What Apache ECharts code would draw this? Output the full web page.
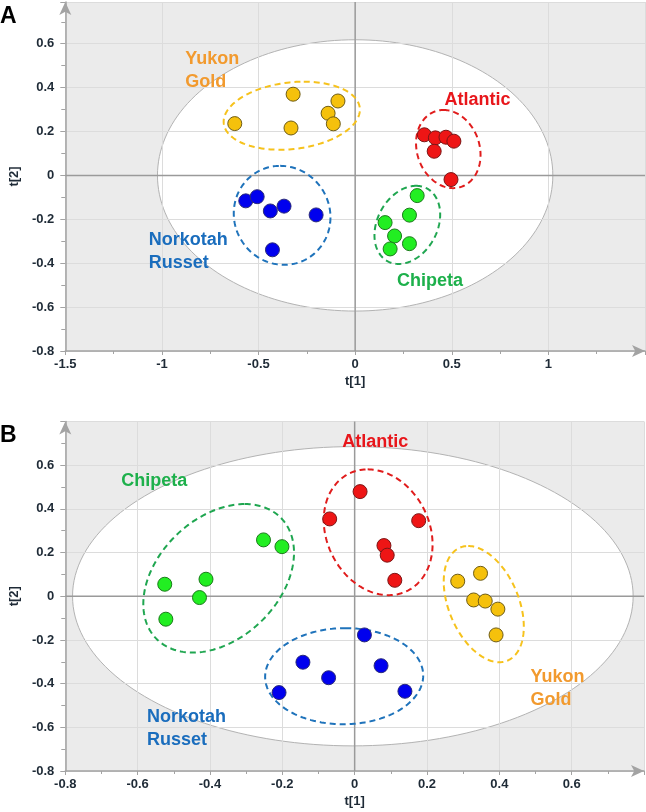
<!DOCTYPE html>
<html>
<head>
<meta charset="utf-8">
<script src="https://cdn.jsdelivr.net/npm/echarts@6/dist/echarts.min.js"></script>
<style>html,body{margin:0;padding:0;background:#fff}#c{width:646px;height:812px}</style>
</head>
<body>
<div id="c"></div>
<script>
// ---------- DATA ----------
const cultivars = ['Yukon Gold', 'Atlantic', 'Norkotah Russet', 'Chipeta'];

// Panel A scores [t1, t2]
const aYukonGold = [[-0.623,0.236],[-0.321,0.370],[-0.332,0.216],[-0.089,0.339],[-0.140,0.283],[-0.113,0.235]];
const aAtlantic  = [[0.358,0.185],[0.415,0.171],[0.470,0.174],[0.511,0.156],[0.409,0.110],[0.496,-0.019]];
const aNorkotah  = [[-0.566,-0.116],[-0.507,-0.097],[-0.439,-0.162],[-0.368,-0.140],[-0.202,-0.180],[-0.428,-0.339]];
const aChipeta   = [[0.321,-0.092],[0.281,-0.181],[0.155,-0.215],[0.204,-0.276],[0.281,-0.311],[0.181,-0.335]];

// Panel B scores [t1, t2]
const bYukonGold = [[0.285,0.069],[0.348,0.105],[0.329,-0.017],[0.361,-0.022],[0.396,-0.059],[0.391,-0.177]];
const bAtlantic  = [[0.015,0.479],[-0.069,0.354],[0.177,0.346],[0.081,0.232],[0.090,0.188],[0.111,0.073]];
const bNorkotah  = [[0.027,-0.177],[-0.143,-0.302],[0.073,-0.318],[-0.072,-0.373],[-0.209,-0.441],[0.139,-0.435]];
const bChipeta   = [[-0.525,0.055],[-0.411,0.078],[-0.429,-0.006],[-0.252,0.258],[-0.201,0.227],[-0.522,-0.105]];

// Hotelling T2 ellipses [cx, cy, rx, ry] (data units)
const aHotelling = [0, 0, 1.023, 0.618];
const bHotelling = [-0.005, 0, 0.775, 0.685];

// Group ellipses [cx, cy, ux, uy, vx, vy] (centre + conjugate semi-diameters, data units)
const aGroupEllipses = [[-0.328,0.272,0.062,0.155,0.347,0],[0.482,0.120,-0.025,0.178,0.165,0],[-0.378,-0.182,-0.010,0.2255,0.25,0],[0.270,-0.2255,0.045,0.178,0.164,0]];
const bGroupEllipses = [[0.357,-0.036,-0.043,0.266,0.102,0],[0.065,0.293,-0.029,0.288,0.1476,0],[-0.029,-0.366,0.003,0.22,0.2185,0],[-0.376,0.082,0.072,0.340,0.1955,0]];

// Group annotation labels [text, t1, t2] (top-left anchor)
const aLabels = [['Yukon\nGold',-0.879,0.582],['Atlantic',0.463,0.398],['Norkotah\nRusset',-1.068,-0.243],['Chipeta',0.217,-0.427]];
const bLabels = [['Yukon\nGold',0.486,-0.315],['Atlantic',-0.034,0.758],['Norkotah\nRusset',-0.574,-0.498],['Chipeta',-0.645,0.582]];

// Axis ranges
const aX = [-1.5, 1.5, 0.5], aY = [-0.8, 0.79, 0.2];
const bX = [-0.8, 0.8, 0.2], bY = [-0.8, 0.8, 0.2];

// ---------- STYLE ----------
const FONT = 'Liberation Sans';
const pointFill   = ['#f5c10c', '#ee1515', '#0000ee', '#22ee22'];
const pointBorder = ['#6e5c16', '#7c1616', '#2a2a7a', '#1c7a1c'];
const ringColor   = ['#f6c21c', '#e01c1c', '#1f73bb', '#1fa650'];
const labelColor  = ['#f29a2e', '#e8161b', '#1a6dbd', '#1db04b'];

const chart = echarts.init(document.getElementById('c'), null, {renderer: 'canvas'});

function ellipsePts(api, cx, cy, ux, uy, vx, vy) {
  const pts = [];
  for (let i = 0; i <= 180; i++) {
    const t = i / 180 * Math.PI * 2;
    pts.push(api.coord([cx + ux * Math.cos(t) + vx * Math.sin(t), cy + uy * Math.cos(t) + vy * Math.sin(t)]));
  }
  return pts;
}

function xAxisCfg(g, r) {
  return {
    gridIndex: g, type: 'value', min: r[0], max: r[1], interval: r[2], z: 2,
    axisLine: {show: true, onZero: false, lineStyle: {color: '#a3a3a3', width: 1.5}, symbol: ['none', 'arrow'], symbolSize: [9, 13]},
    axisTick: {show: true, length: 4, lineStyle: {color: '#a3a3a3'}},
    minorTick: {show: true, splitNumber: 2, length: 3, lineStyle: {color: '#a3a3a3'}},
    axisLabel: {showMaxLabel: false, color: '#1e2a36', fontWeight: 'bold', fontSize: 13, fontFamily: FONT, margin: 7},
    splitLine: {show: true, lineStyle: {color: '#dcdcdc', width: 1}},
    name: 't[1]', nameLocation: 'middle', nameGap: 24,
    nameTextStyle: {color: '#1e2a36', fontWeight: 'bold', fontSize: 13, fontFamily: FONT}
  };
}
function yAxisCfg(g, r) {
  return {
    gridIndex: g, type: 'value', min: r[0], max: r[1], interval: r[2], z: 2,
    axisLine: {show: true, onZero: false, lineStyle: {color: '#a3a3a3', width: 1.5}, symbol: ['none', 'arrow'], symbolSize: [9, 13]},
    axisTick: {show: true, length: 5, lineStyle: {color: '#a3a3a3'}},
    minorTick: {show: true, splitNumber: 2, length: 4, lineStyle: {color: '#a3a3a3'}},
    axisLabel: {showMaxLabel: false, color: '#1e2a36', fontWeight: 'bold', fontSize: 13, fontFamily: FONT, margin: 11},
    splitLine: {show: true, lineStyle: {color: '#dcdcdc', width: 1}},
    name: 't[2]', nameLocation: 'middle', nameGap: 40,
    nameTextStyle: {color: '#1e2a36', fontWeight: 'bold', fontSize: 13, fontFamily: FONT}
  };
}

function panelSeries(g, hot, xr, yr, groups, rings, labels) {
  const s = [];
  s.push({
    type: 'custom', xAxisIndex: g, yAxisIndex: g, z: 1, silent: true, data: [[hot[0], hot[1]]],
    renderItem: (p, api) => ({type: 'polygon', shape: {points: ellipsePts(api, hot[0], hot[1], 0, hot[3], hot[2], 0)},
      style: {fill: '#ffffff', stroke: '#b3b3b3', lineWidth: 1}})
  });
  s.push({
    type: 'custom', xAxisIndex: g, yAxisIndex: g, z: 3, silent: true, data: [[0, 0]],
    renderItem: (p, api) => ({type: 'group', children: [
      {type: 'line', shape: {x1: api.coord([xr[0], 0])[0], y1: api.coord([xr[0], 0])[1], x2: api.coord([xr[1], 0])[0], y2: api.coord([xr[1], 0])[1]}, style: {stroke: '#9a9a9a', lineWidth: 1.5}},
      {type: 'line', shape: {x1: api.coord([0, yr[0]])[0], y1: api.coord([0, yr[0]])[1], x2: api.coord([0, yr[1]])[0], y2: api.coord([0, yr[1]])[1]}, style: {stroke: '#9a9a9a', lineWidth: 1.5}}
    ]})
  });
  s.push({
    type: 'custom', xAxisIndex: g, yAxisIndex: g, z: 4, silent: true, data: rings.map(e => [e[0], e[1]]),
    renderItem: (p, api) => {
      const e = rings[p.dataIndex];
      return {type: 'polygon', shape: {points: ellipsePts(api, e[0], e[1], e[2], e[3], e[4], e[5])},
        style: {fill: 'none', stroke: ringColor[p.dataIndex], lineWidth: 2, lineDash: [6, 4]}};
    }
  });
  groups.forEach((d, i) => s.push({
    type: 'scatter', name: cultivars[i], xAxisIndex: g, yAxisIndex: g, z: 5, data: d,
    symbol: 'circle', symbolSize: 14,
    itemStyle: {color: pointFill[i], borderColor: pointBorder[i], borderWidth: 1, opacity: 1}
  }));
  s.push({
    type: 'custom', xAxisIndex: g, yAxisIndex: g, z: 6, silent: true, data: labels.map(l => [l[1], l[2]]),
    renderItem: (p, api) => {
      const l = labels[p.dataIndex];
      const c = api.coord([l[1], l[2]]);
      return {type: 'text', x: c[0], y: c[1], style: {text: l[0], fill: labelColor[p.dataIndex],
        font: 'bold 18px ' + FONT, align: 'left', verticalAlign: 'top', lineHeight: 23}};
    }
  });
  return s;
}

const option = {
  animation: false,
  backgroundColor: '#ffffff',
  grid: [
    {left: 64, right: 1, top: 2, bottom: 461, show: true, backgroundColor: '#ebebeb', borderWidth: 0},
    {left: 64, right: 2, top: 421.5, bottom: 41, show: true, backgroundColor: '#ebebeb', borderWidth: 0}
  ],
  xAxis: [xAxisCfg(0, aX), xAxisCfg(1, bX)],
  yAxis: [yAxisCfg(0, aY), yAxisCfg(1, bY)],
  graphic: [
    {type: 'text', left: 0, top: 5, style: {text: 'A', font: 'bold 23px ' + FONT, fill: '#000'}},
    {type: 'text', left: 0, top: 424, style: {text: 'B', font: 'bold 23px ' + FONT, fill: '#000'}}
  ],
  series: [].concat(
    panelSeries(0, aHotelling, aX, aY, [aYukonGold, aAtlantic, aNorkotah, aChipeta], aGroupEllipses, aLabels),
    panelSeries(1, bHotelling, bX, bY, [bYukonGold, bAtlantic, bNorkotah, bChipeta], bGroupEllipses, bLabels)
  )
};
chart.setOption(option);
</script>
</body>
</html>
